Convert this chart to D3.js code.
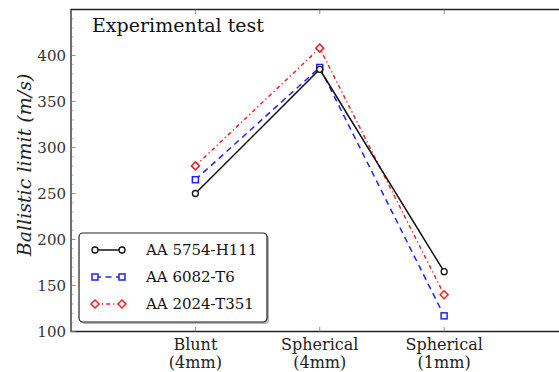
<!DOCTYPE html>
<html>
<head>
<meta charset="utf-8">
<script src="https://cdn.jsdelivr.net/npm/d3@7"></script>
<style>
  html, body { margin: 0; padding: 0; background: #fff; }
  svg { display: block; font-family: "DejaVu Serif", serif; }
  .tick-label { fill: #333; font-size: 15px; }
</style>
</head>
<body>
<div id="chart"></div>
<script>
// --- DATA ---
const categories = ["Blunt|(4mm)", "Spherical|(4mm)", "Spherical|(1mm)"];
const seriesNames = ["AA 5754-H111", "AA 6082-T6", "AA 2024-T351"];
const aa5754 = [250, 385, 165];
const aa6082 = [265, 387, 117];
const aa2024 = [280, 408, 140];
const yTicks = [100, 150, 200, 250, 300, 350, 400];

(function () {
  'use strict';

  const W = 559, H = 372;
  const left = 71, right = 568.5, top = 9.5, bottom = 331.5;

  const svg = d3.select("#chart").append("svg")
    .attr("width", W).attr("height", H);

  const x = d3.scaleLinear().domain([-1, 3]).range([left, right]);
  const y = d3.scaleLinear().domain([100, 450]).range([bottom, top]);

  const series = [
    { name: seriesNames[0], values: aa5754, color: "#111", dash: null, marker: "circle" },
    { name: seriesNames[1], values: aa6082, color: "#2222ee", dash: "6,4.5", marker: "square" },
    { name: seriesNames[2], values: aa2024, color: "#ee2222", dash: "4,3,1.2,3", marker: "diamond" }
  ];

  // frame (right side falls off the picture)
  svg.append("path")
    .attr("d", `M${right},${top}H${left}V${bottom}H${right}`)
    .attr("fill", "none").attr("stroke", "#222").attr("stroke-width", 1.3);

  // y ticks, major + minor, drawn inside
  const minor = d3.range(100, 451, 10).filter(v => v % 50 !== 0);
  svg.selectAll(".ymin").data(minor).enter().append("line")
    .attr("x1", left).attr("x2", left + 2.5)
    .attr("y1", d => y(d)).attr("y2", d => y(d))
    .attr("stroke", "#777").attr("stroke-width", 0.6);
  svg.selectAll(".ymaj").data(yTicks).enter().append("line")
    .attr("x1", left).attr("x2", left + 4.5)
    .attr("y1", d => y(d)).attr("y2", d => y(d))
    .attr("stroke", "#777").attr("stroke-width", 0.8);
  svg.selectAll(".ylab").data(yTicks).enter().append("text")
    .attr("class", "tick-label")
    .attr("x", left - 5).attr("y", d => y(d)).attr("dy", "0.35em")
    .attr("text-anchor", "end")
    .text(d => d);

  // x ticks top and bottom
  const xIdx = d3.range(categories.length);
  svg.selectAll(".xtb").data(xIdx).enter().append("line")
    .attr("x1", d => x(d)).attr("x2", d => x(d))
    .attr("y1", bottom).attr("y2", bottom - 4.5)
    .attr("stroke", "#777").attr("stroke-width", 0.8);
  svg.selectAll(".xtt").data(xIdx).enter().append("line")
    .attr("x1", d => x(d)).attr("x2", d => x(d))
    .attr("y1", top).attr("y2", top + 4.5)
    .attr("stroke", "#777").attr("stroke-width", 0.8);
  const xl = svg.selectAll(".xlab").data(categories).enter().append("text")
    .attr("class", "tick-label")
    .attr("text-anchor", "middle")
    .style("font-size", "16px").style("fill", "#222");
  xl.append("tspan").attr("x", (d, i) => x(i)).attr("y", 350).text(d => d.split("|")[0]);
  xl.append("tspan").attr("x", (d, i) => x(i)).attr("y", 368).text(d => d.split("|")[1]);

  // y label
  svg.append("text")
    .attr("transform", `translate(31,${165}) rotate(-90)`)
    .attr("text-anchor", "middle")
    .style("font-size", "19px").style("font-style", "italic").style("fill", "#222")
    .text("Ballistic limit (m/s)");

  // title
  svg.append("text")
    .attr("x", 92).attr("y", 32)
    .style("font-size", "19px").style("fill", "#111")
    .text("Experimental test");

  // markers
  function drawMarker(g, s, cx, cy, scale) {
    const k = scale || 1;
    if (s.marker === "circle") {
      g.append("circle").attr("cx", cx).attr("cy", cy).attr("r", 3 * k)
        .attr("fill", "#fff").attr("stroke", s.color).attr("stroke-width", 1.3);
    } else if (s.marker === "square") {
      const a = 3 * k;
      g.append("rect").attr("x", cx - a).attr("y", cy - a).attr("width", 2 * a).attr("height", 2 * a)
        .attr("fill", "#fff").attr("stroke", s.color).attr("stroke-width", 1.5);
    } else {
      const a = 4 * k;
      g.append("path").attr("d", `M${cx},${cy - a}L${cx + a},${cy}L${cx},${cy + a}L${cx - a},${cy}Z`)
        .attr("fill", "#fff").attr("stroke", s.color).attr("stroke-width", 1.5);
    }
  }

  const line = d3.line().x((d, i) => x(i)).y(d => y(d));

  // draw in reverse so black is on top
  series.slice().reverse().forEach(s => {
    svg.append("path").datum(s.values)
      .attr("d", line)
      .attr("fill", "none").attr("stroke", s.color).attr("stroke-width", 1.5)
      .attr("stroke-dasharray", s.dash);
  });
  series.slice().reverse().forEach(s => {
    const g = svg.append("g");
    s.values.forEach((v, i) => drawMarker(g, s, x(i), y(v)));
  });

  // legend
  const lg = svg.append("g");
  lg.append("rect").attr("x", 81).attr("y", 235).attr("width", 188).attr("height", 89)
    .attr("rx", 4).attr("fill", "#888").attr("opacity", 0.6);
  lg.append("rect").attr("x", 79).attr("y", 233).attr("width", 188).attr("height", 89)
    .attr("rx", 4).attr("fill", "#fff").attr("stroke", "#222").attr("stroke-width", 1.2);
  series.forEach((s, i) => {
    const ly = 250 + i * 27;
    lg.append("line").attr("x1", 95).attr("x2", 122).attr("y1", ly).attr("y2", ly)
      .attr("stroke", s.color).attr("stroke-width", 1.5).attr("stroke-dasharray", s.dash);
    drawMarker(lg, s, 95, ly);
    drawMarker(lg, s, 122, ly);
    lg.append("text").attr("x", 146).attr("y", ly).attr("dy", "0.35em")
      .style("font-size", "15px").style("fill", "#111")
      .text(s.name);
  });
})();
</script>
</body>
</html>
